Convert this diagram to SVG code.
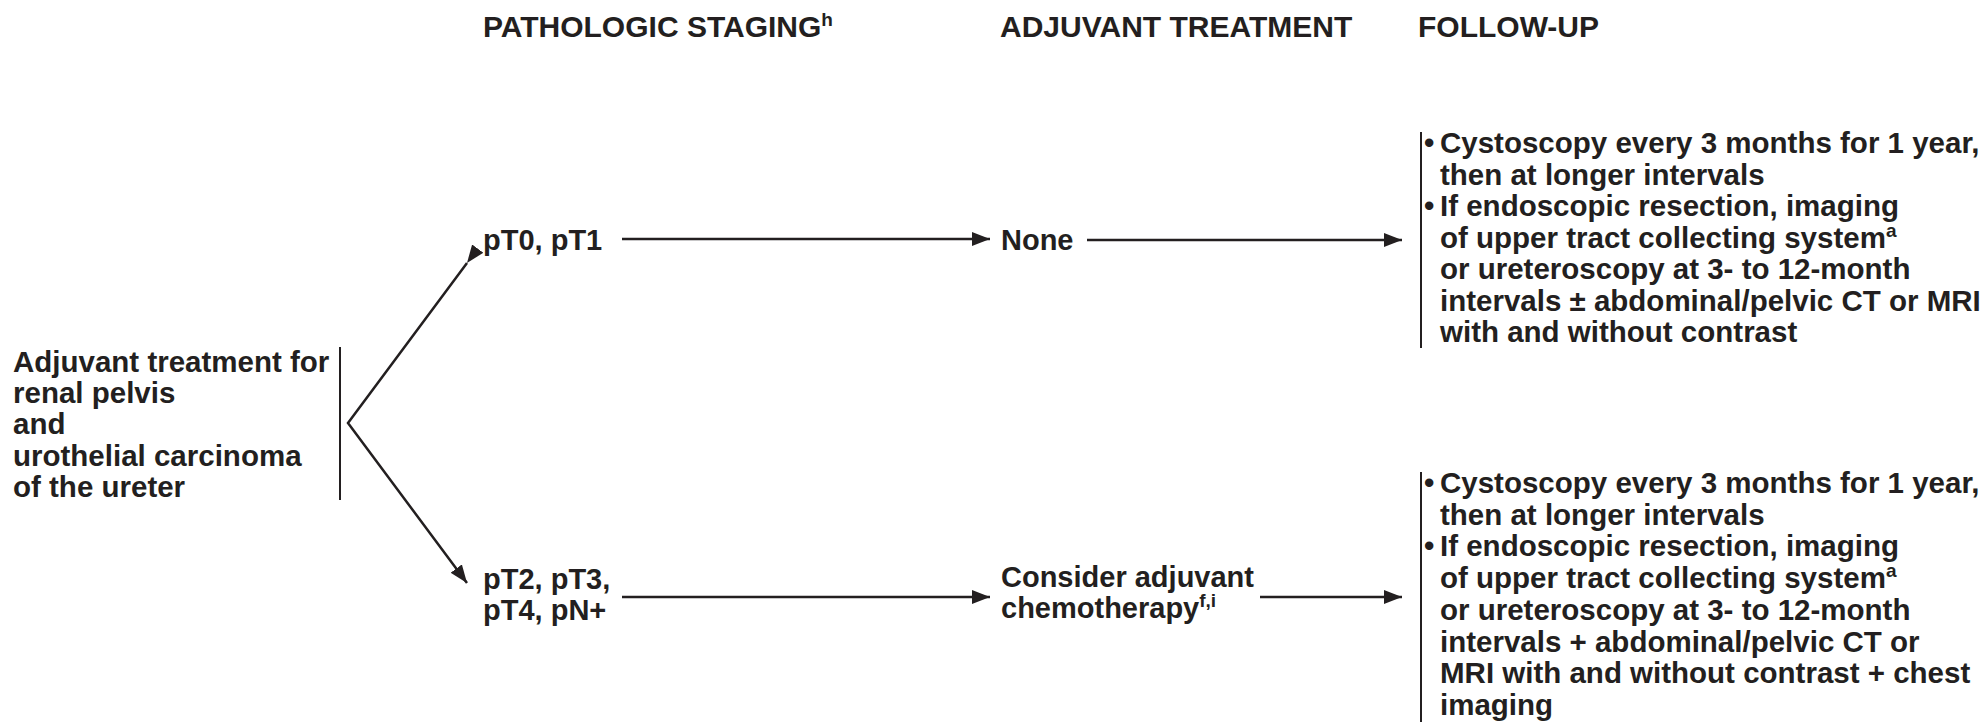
<svg xmlns="http://www.w3.org/2000/svg" width="1986" height="723" viewBox="0 0 1986 723">
<style>
text{font-family:"Liberation Sans",Arial,sans-serif;font-weight:bold;fill:#231f20}
.h{font-size:30px}
.b{font-size:29.5px}
.m{font-size:29px}
.sup{font-size:19px}
.ln{stroke:#231f20;stroke-width:2.5;fill:none}
.bar{stroke:#231f20;stroke-width:2;fill:none}
</style>
<defs>
<marker id="ah" markerUnits="userSpaceOnUse" markerWidth="20" markerHeight="16" refX="18" refY="7" orient="auto">
<path d="M0,0 L18,7 L0,14 Z" fill="#231f20"/>
</marker>
</defs>
<rect width="1986" height="723" fill="#ffffff"/>
<g id="headers">
<text class="h" x="483" y="37">PATHOLOGIC STAGING<tspan class="sup" dy="-11">h</tspan></text>
<text class="h" x="1000" y="37">ADJUVANT TREATMENT</text>
<text class="h" x="1418" y="37">FOLLOW-UP</text>
</g>
<g id="start">
<text class="b" x="13" y="372">Adjuvant treatment for</text>
<text class="b" x="13" y="403">renal pelvis</text>
<text class="b" x="13" y="434">and</text>
<text class="b" x="13" y="466">urothelial carcinoma</text>
<text class="b" x="13" y="497">of the ureter</text>
<line class="bar" x1="340" y1="347" x2="340" y2="500"/>
</g>
<g id="pT01">
<text class="m" x="483" y="250">pT0, pT1</text>
</g>
<g id="pT234">
<text class="m" x="483" y="589">pT2, pT3,</text>
<text class="m" x="483" y="620">pT4, pN+</text>
</g>
<g id="none">
<text class="m" x="1001" y="250">None</text>
</g>
<g id="chemo">
<text class="m" x="1001" y="587">Consider adjuvant</text>
<text class="m" x="1001" y="618">chemotherapy<tspan class="sup" dy="-11">f,i</tspan></text>
</g>
<g id="follow1">
<line class="bar" x1="1421" y1="132" x2="1421" y2="348"/>
<text class="b" x="1424" y="153">•</text>
<text class="b" x="1440" y="153">Cystoscopy every 3 months for 1 year,</text>
<text class="b" x="1440" y="184.5">then at longer intervals</text>
<text class="b" x="1424" y="216">•</text>
<text class="b" x="1440" y="216">If endoscopic resection, imaging</text>
<text class="b" x="1440" y="247.5">of upper tract collecting system<tspan class="sup" dy="-11">a</tspan></text>
<text class="b" x="1440" y="279">or ureteroscopy at 3- to 12-month</text>
<text class="b" x="1440" y="310.5">intervals ± abdominal/pelvic CT or MRI</text>
<text class="b" x="1440" y="342">with and without contrast</text>
</g>
<g id="follow2">
<line class="bar" x1="1421" y1="472" x2="1421" y2="722"/>
<text class="b" x="1424" y="493">•</text>
<text class="b" x="1440" y="493">Cystoscopy every 3 months for 1 year,</text>
<text class="b" x="1440" y="524.7">then at longer intervals</text>
<text class="b" x="1424" y="556.4">•</text>
<text class="b" x="1440" y="556.4">If endoscopic resection, imaging</text>
<text class="b" x="1440" y="588.1">of upper tract collecting system<tspan class="sup" dy="-11">a</tspan></text>
<text class="b" x="1440" y="619.8">or ureteroscopy at 3- to 12-month</text>
<text class="b" x="1440" y="651.5">intervals + abdominal/pelvic CT or</text>
<text class="b" x="1440" y="683.2">MRI with and without contrast + chest</text>
<text class="b" x="1440" y="714.9">imaging</text>
</g>
<g id="connectors">
<polyline class="ln" points="467,263 348,423 467,583" marker-start="url(#ah)" marker-end="url(#ah)"/>
<line class="ln" x1="622" y1="239" x2="990" y2="239" marker-end="url(#ah)"/>
<line class="ln" x1="1087" y1="240" x2="1402" y2="240" marker-end="url(#ah)"/>
<line class="ln" x1="622" y1="597" x2="990" y2="597" marker-end="url(#ah)"/>
<line class="ln" x1="1260" y1="597" x2="1402" y2="597" marker-end="url(#ah)"/>
</g>
</svg>
